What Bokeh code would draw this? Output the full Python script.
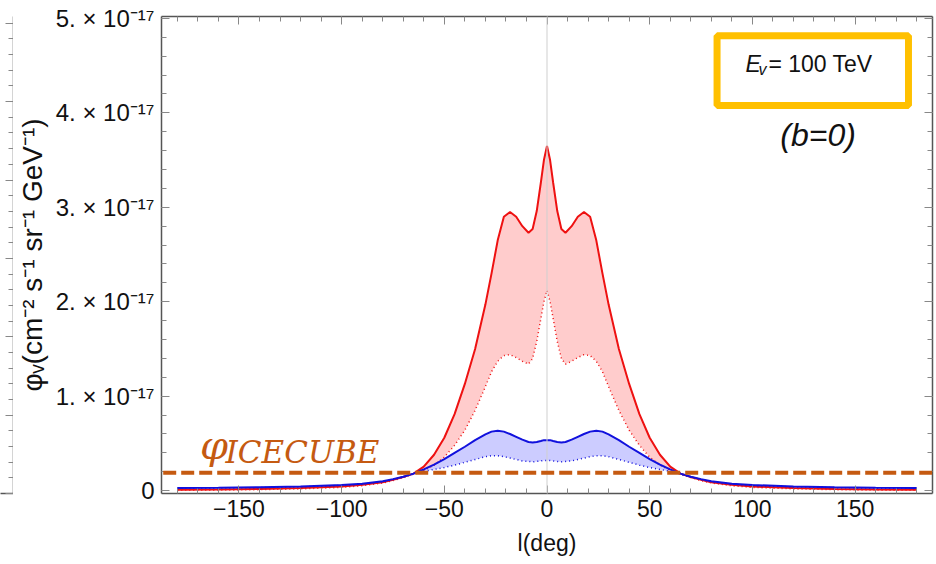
from bokeh.plotting import figure
from bokeh.layouts import row
from bokeh.models import (LinearAxis, FixedTicker, Span, Label, BoxAnnotation,
                          CustomJSTickFormatter, Range1d, Arrow)
from bokeh.embed import file_html
from bokeh.resources import INLINE

# ---------------- data (y in units of 1e-17) ----------------
l_deg = [-180, -160, -140, -120, -100, -90, -80, -75, -70, -65, -60, -55, -50, -45,
         -40, -35, -30, -27, -24, -21, -18, -15, -12, -9, -7, -5, -3, -1.5, 0,
         1.5, 3, 5, 7, 9, 12, 15, 18, 21, 24, 27, 30, 35, 40, 45, 50, 55, 60, 65,
         70, 75, 80, 90, 100, 120, 140, 160, 180]

red_upper = [0.010, 0.013, 0.018, 0.027, 0.045, 0.062, 0.090, 0.115, 0.145, 0.180,
             0.255, 0.380, 0.560, 0.810, 1.130, 1.500, 1.970, 2.300, 2.650, 2.900,
             2.950, 2.900, 2.800, 2.730, 2.770, 2.960, 3.260, 3.500, 3.650,
             3.500, 3.260, 2.960, 2.770, 2.730, 2.800, 2.900, 2.950, 2.900, 2.650,
             2.300, 1.970, 1.500, 1.130, 0.810, 0.560, 0.380, 0.255, 0.180, 0.145,
             0.115, 0.090, 0.062, 0.045, 0.027, 0.018, 0.013, 0.010]

red_lower = [0.003, 0.006, 0.011, 0.019, 0.035, 0.052, 0.082, 0.107, 0.140, 0.178,
             0.215, 0.270, 0.355, 0.480, 0.640, 0.850, 1.100, 1.260, 1.370, 1.430,
             1.440, 1.410, 1.370, 1.340, 1.400, 1.580, 1.820, 2.000, 2.120,
             2.000, 1.820, 1.580, 1.400, 1.340, 1.370, 1.410, 1.440, 1.430, 1.370,
             1.260, 1.100, 0.850, 0.640, 0.480, 0.355, 0.270, 0.215, 0.178, 0.140,
             0.107, 0.082, 0.052, 0.035, 0.019, 0.011, 0.006, 0.003]

blue_upper = [0.028, 0.031, 0.036, 0.044, 0.060, 0.074, 0.100, 0.122, 0.148, 0.180,
              0.225, 0.275, 0.335, 0.400, 0.465, 0.535, 0.595, 0.625, 0.635, 0.625,
              0.600, 0.570, 0.540, 0.515, 0.510, 0.515, 0.525, 0.535, 0.535,
              0.535, 0.525, 0.515, 0.510, 0.515, 0.540, 0.570, 0.600, 0.625, 0.635,
              0.625, 0.595, 0.535, 0.465, 0.400, 0.335, 0.275, 0.225, 0.180, 0.148,
              0.122, 0.100, 0.074, 0.060, 0.044, 0.036, 0.031, 0.028]

blue_lower = [0.024, 0.027, 0.032, 0.040, 0.055, 0.069, 0.095, 0.117, 0.143, 0.175,
              0.205, 0.225, 0.245, 0.270, 0.300, 0.330, 0.360, 0.370, 0.370, 0.360,
              0.345, 0.330, 0.315, 0.310, 0.305, 0.310, 0.315, 0.320, 0.320,
              0.320, 0.315, 0.310, 0.305, 0.310, 0.315, 0.330, 0.345, 0.360, 0.370,
              0.370, 0.360, 0.330, 0.300, 0.270, 0.245, 0.225, 0.205, 0.175, 0.143,
              0.117, 0.095, 0.069, 0.055, 0.040, 0.032, 0.027, 0.024]

icecube_level = 0.19
icecube_line_start = -204.4   # the reference line begins left of the frame

x_ticks = [-150, -100, -50, 0, 50, 100, 150]
x_minor = list(range(-180, 181, 10))
y_ticks = [0, 1, 2, 3, 4, 5]
y_minor = [i * 0.2 for i in range(0, 26)]
y_tick_labels = {0: "0", 1: "1. × 10⁻¹⁷", 2: "2. × 10⁻¹⁷", 3: "3. × 10⁻¹⁷",
                 4: "4. × 10⁻¹⁷", 5: "5. × 10⁻¹⁷"}

FONT = "Liberation Sans"
FRAME = "#555555"
TICK = "#888888"
ICE = "#C55A11"
blank = CustomJSTickFormatter(code="return ''")

# ---------------- left partial panel ----------------
lp = figure(width=13, height=564, x_range=Range1d(0, 1), y_range=Range1d(0, 493 / 81),
            x_axis_location=None, y_axis_location=None, toolbar_location=None,
            output_backend="svg", min_border_left=0, min_border_right=0,
            min_border_top=0, min_border_bottom=71, outline_line_color=None)
lp.grid.visible = False
ra = LinearAxis(ticker=FixedTicker(ticks=[0, 1, 2, 3, 4, 5, 6],
                                   minor_ticks=[i * 0.2 for i in range(31)]),
                formatter=blank, major_tick_in=8, major_tick_out=0,
                minor_tick_in=5, minor_tick_out=0, major_label_standoff=0,
                major_label_text_font_size="0px", axis_line_color=FRAME,
                axis_line_width=1.5, major_tick_line_color=TICK, minor_tick_line_color=TICK)
lp.add_layout(ra, "right")
ba = LinearAxis(ticker=FixedTicker(ticks=[]), formatter=blank, major_tick_in=0,
                major_tick_out=0, minor_tick_in=0, minor_tick_out=0,
                major_label_standoff=0, major_label_text_font_size="0px",
                axis_line_color=FRAME, axis_line_width=1.5)
lp.add_layout(ba, "below")
lp.scatter([0.5], [1], size=0, alpha=0)

# ---------------- main panel ----------------
p = figure(width=923, height=564, x_range=Range1d(-187.7, 187.7), y_range=Range1d(-0.03, 5.02),
           x_axis_location=None, y_axis_location=None, toolbar_location=None,
           output_backend="svg", min_border_left=146, min_border_right=4,
           min_border_top=16, min_border_bottom=69, outline_line_color=None)
p.grid.visible = False


def style_axis(ax, labels):
    ax.major_tick_in = 8
    ax.major_tick_out = 0
    ax.minor_tick_in = 5
    ax.minor_tick_out = 0
    ax.axis_line_color = FRAME
    ax.axis_line_width = 1.5
    ax.major_tick_line_color = TICK
    ax.minor_tick_line_color = TICK
    if labels:
        ax.major_label_text_font = FONT
        ax.major_label_text_font_size = "23px"
        ax.major_label_text_color = "#111111"
        ax.axis_label_text_font = FONT
        ax.axis_label_text_font_size = "23px"
        ax.axis_label_text_font_style = "normal"
        ax.axis_label_text_color = "#111111"
    else:
        ax.formatter = blank
        ax.major_label_text_font_size = "0px"
        ax.major_label_standoff = 0


xt = FixedTicker(ticks=x_ticks, minor_ticks=x_minor)
yt = FixedTicker(ticks=y_ticks, minor_ticks=y_minor)

bx = LinearAxis(ticker=xt, axis_label="l(deg)")
style_axis(bx, True)
bx.major_label_standoff = 6
bx.axis_label_standoff = 10
p.add_layout(bx, "below")

tx = LinearAxis(ticker=xt)
style_axis(tx, False)
p.add_layout(tx, "above")

ly = LinearAxis(ticker=yt, axis_label="φᵥ(cm⁻² s⁻¹ sr⁻¹ GeV⁻¹)",
                major_label_overrides=y_tick_labels)
style_axis(ly, True)
ly.major_label_text_font_size = "24px"
ly.axis_label_text_font_size = "28px"
ly.major_label_standoff = 7
ly.axis_label_standoff = 5
p.add_layout(ly, "left")

ry = LinearAxis(ticker=yt)
style_axis(ry, False)
p.add_layout(ry, "right")

p.add_layout(Span(location=0, dimension="height", line_color="#cfcfcf", line_width=1))

p.varea(x=l_deg, y1=red_lower, y2=red_upper, fill_color="red", fill_alpha=0.2)
p.varea(x=l_deg, y1=blue_lower, y2=blue_upper, fill_color="blue", fill_alpha=0.2)
p.line(l_deg, red_upper, line_color="#ee1111", line_width=2)
p.line(l_deg, red_lower, line_color="#ee1111", line_width=1.5, line_dash="1 3")
p.line(l_deg, blue_upper, line_color="#1111dd", line_width=2)
p.line(l_deg, blue_lower, line_color="#1111dd", line_width=1.5, line_dash="1 3")

# IceCube sensitivity level: dashed line running across (and a little left of) the frame
p.add_layout(Arrow(end=None, x_start=icecube_line_start, x_end=187.7,
                   y_start=icecube_level, y_end=icecube_level,
                   line_color=ICE, line_width=4, line_dash="13 5"))

# φ_ICECUBE label
p.add_layout(Label(x=-169, y=0.485, text="φ", text_font="DejaVu Serif",
                   text_font_style="italic", text_font_size="40px", text_color=ICE,
                   text_baseline="alphabetic"))
p.add_layout(Label(x=-156.5, y=0.41, text="ICECUBE", text_font="DejaVu Serif",
                   text_font_style="italic", text_font_size="31px", text_color=ICE,
                   text_baseline="alphabetic"))

# energy box
p.add_layout(BoxAnnotation(left=82.8, right=176.0, bottom=4.079, top=4.816,
                           fill_color="white", fill_alpha=1, line_color="#FFC000",
                           line_width=7, line_alpha=1))
p.add_layout(Label(x=96.6, y=4.515, text="E", text_font=FONT, text_font_style="italic",
                   text_font_size="23px", text_color="#111111", text_baseline="alphabetic"))
p.add_layout(Label(x=103.0, y=4.455, text="v", text_font=FONT, text_font_style="italic",
                   text_font_size="16px", text_color="#111111", text_baseline="alphabetic"))
p.add_layout(Label(x=107.8, y=4.515, text="= 100 TeV", text_font=FONT,
                   text_font_size="23px", text_color="#111111", text_baseline="alphabetic"))
p.add_layout(Label(x=113.6, y=3.77, text="(b=0)", text_font=FONT, text_font_style="italic",
                   text_font_size="32px", text_color="#111111", text_baseline="alphabetic"))

layout = row(lp, p)
open("out.html", "w").write(file_html(layout, INLINE))
